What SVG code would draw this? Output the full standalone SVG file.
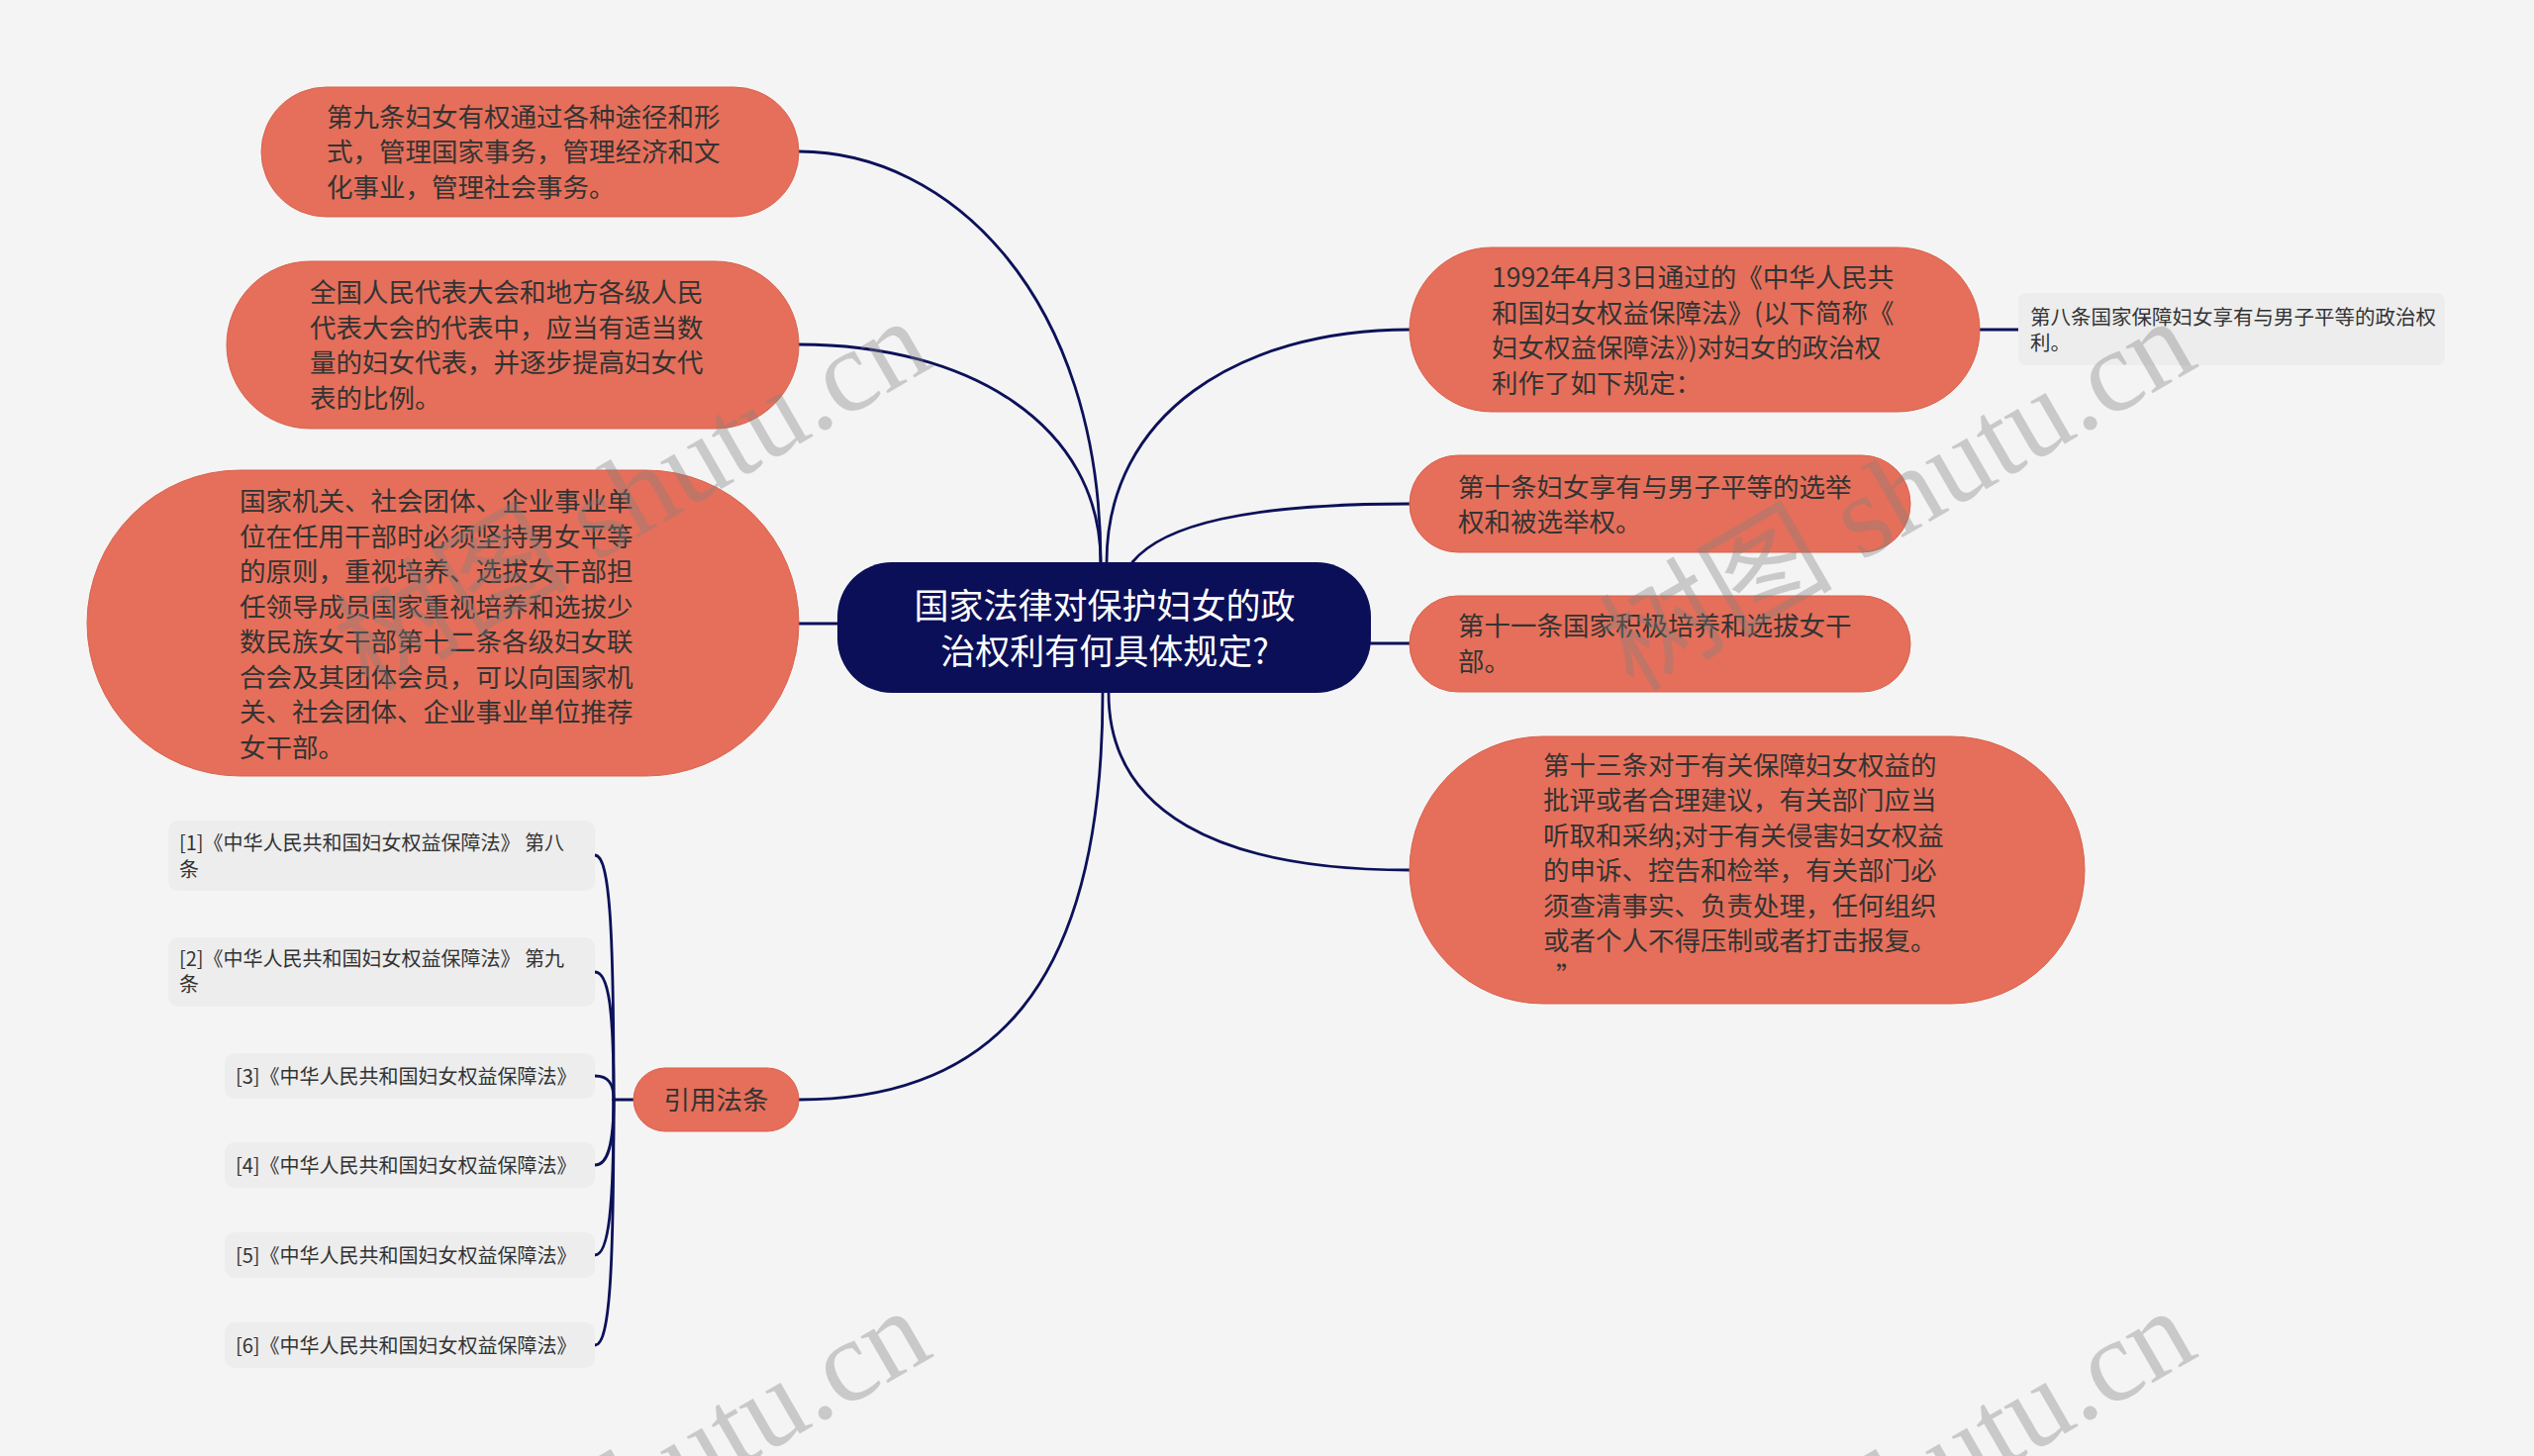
<svg xmlns="http://www.w3.org/2000/svg" width="2560" height="1471" viewBox="0 0 2560 1471">
<style>
.node{fill:#e56f5a;stroke:#d9624d;stroke-width:1}
.t{font-family:"Noto Sans CJK SC","Noto Sans",sans-serif;font-size:26.5px;fill:#333333}
.ct{font-family:"Noto Sans CJK SC","Noto Sans",sans-serif;font-size:35px;fill:#ffffff}
.leaf{fill:#ededed}
.lt{font-family:"Noto Sans CJK SC","Noto Sans",sans-serif;font-size:20px;fill:#333333}
.c{fill:none;stroke:#0c1159;stroke-width:2.8;stroke-linecap:round}
.wm{font-family:"Liberation Serif","Noto Sans CJK SC",serif;font-size:118px;fill:#808080;opacity:0.36}
</style>
<rect x="0" y="0" width="2560" height="1471" fill="#f4f4f4"/>
<g id="connectors">
<path class="c" d="M1112,568 C1112,300 960,153 807,153"/>
<path class="c" d="M1112,568 C1112,430 980,348 807,348"/>
<path class="c" d="M807,630 L846,630"/>
<path class="c" d="M1114,700 C1114,1000 1000,1111 807,1111"/>
<path class="c" d="M1118,568 C1118,420 1250,333 1424,333"/>
<path class="c" d="M1144,568 C1175,530 1260,509 1424,509"/>
<path class="c" d="M1385,650 L1424,650"/>
<path class="c" d="M1120,700 C1120,820 1230,879 1424,879"/>
<path class="c" d="M2000,333 L2039,333"/>
<path class="c" d="M640,1111 L620,1111"/>
<path class="c" d="M620,1111 C620,938 616,864 601,864"/>
<path class="c" d="M620,1111 C620,1020 615,982 601,982"/>
<path class="c" d="M620,1111 C620,1094 614,1087 601,1087"/>
<path class="c" d="M620,1111 C620,1157 614,1177 601,1177"/>
<path class="c" d="M620,1111 C620,1220 615,1268 601,1268"/>
<path class="c" d="M620,1111 C620,1285 616,1359 601,1359"/>
</g>
<g id="center">
<rect x="846" y="568" width="539" height="132" rx="55" fill="#0b0f58"/>
<text class="ct" text-anchor="middle"><tspan x="1116" y="625">国家法律对保护妇女的政</tspan><tspan x="1116" y="671">治权利有何具体规定?</tspan></text>
</g>
<g id="n9">
<rect class="node" x="264" y="88" width="543" height="131" rx="65.5"/>
<text class="t"><tspan x="330" y="127.5">第九条妇女有权通过各种途径和形</tspan><tspan x="330" y="163">式，管理国家事务，管理经济和文</tspan><tspan x="330" y="198.5">化事业，管理社会事务。</tspan></text>
</g>
<g id="nrep">
<rect class="node" x="229" y="264" width="578" height="169" rx="84.5"/>
<text class="t"><tspan x="313" y="305">全国人民代表大会和地方各级人民</tspan><tspan x="313" y="340.5">代表大会的代表中，应当有适当数</tspan><tspan x="313" y="376">量的妇女代表，并逐步提高妇女代</tspan><tspan x="313" y="411.5">表的比例。</tspan></text>
</g>
<g id="norg">
<rect class="node" x="88" y="475" width="719" height="309" rx="154.5"/>
<text class="t"><tspan x="242" y="516">国家机关、社会团体、企业事业单</tspan><tspan x="242" y="551.5">位在任用干部时必须坚持男女平等</tspan><tspan x="242" y="587">的原则，重视培养、选拔女干部担</tspan><tspan x="242" y="622.5">任领导成员国家重视培养和选拔少</tspan><tspan x="242" y="658">数民族女干部第十二条各级妇女联</tspan><tspan x="242" y="693.5">合会及其团体会员，可以向国家机</tspan><tspan x="242" y="729">关、社会团体、企业事业单位推荐</tspan><tspan x="242" y="764.5">女干部。</tspan></text>
</g>
<g id="n1992">
<rect class="node" x="1424" y="250" width="576" height="166" rx="83"/>
<text class="t"><tspan x="1507" y="290">1992年4月3日通过的《中华人民共</tspan><tspan x="1507" y="325.5">和国妇女权益保障法》(以下简称《</tspan><tspan x="1507" y="361">妇女权益保障法》)对妇女的政治权</tspan><tspan x="1507" y="396.5">利作了如下规定：</tspan></text>
</g>
<g id="n8">
<rect class="leaf" x="2039" y="296" width="431" height="73" rx="8"/>
<text class="lt" style="font-size:20.5px"><tspan x="2051" y="328">第八条国家保障妇女享有与男子平等的政治权</tspan><tspan x="2051" y="354">利。</tspan></text>
</g>
<g id="n10">
<rect class="node" x="1424" y="460" width="506" height="98" rx="49"/>
<text class="t"><tspan x="1473" y="501.5">第十条妇女享有与男子平等的选举</tspan><tspan x="1473" y="537">权和被选举权。</tspan></text>
</g>
<g id="n11">
<rect class="node" x="1424" y="602" width="506" height="97" rx="48.5"/>
<text class="t"><tspan x="1473" y="642">第十一条国家积极培养和选拔女干</tspan><tspan x="1473" y="678">部。</tspan></text>
</g>
<g id="n13">
<rect class="node" x="1424" y="744" width="682" height="270" rx="135"/>
<text class="t"><tspan x="1559" y="782.5">第十三条对于有关保障妇女权益的</tspan><tspan x="1559" y="818">批评或者合理建议，有关部门应当</tspan><tspan x="1559" y="853.5">听取和采纳;对于有关侵害妇女权益</tspan><tspan x="1559" y="889">的申诉、控告和检举，有关部门必</tspan><tspan x="1559" y="924.5">须查清事实、负责处理，任何组织</tspan><tspan x="1559" y="960">或者个人不得压制或者打击报复。</tspan><tspan x="1572" y="995.5">”</tspan></text>
</g>
<g id="nref">
<rect class="node" x="640" y="1079" width="167" height="64" rx="32"/>
<text class="t" text-anchor="middle" x="723.5" y="1121">引用法条</text>
</g>
<g id="r1">
<rect class="leaf" x="170" y="829" width="431" height="71" rx="10"/>
<text class="lt"><tspan x="181" y="858.5">[1]《中华人民共和国妇女权益保障法》 第八</tspan><tspan x="181" y="885.5">条</tspan></text>
</g>
<g id="r2">
<rect class="leaf" x="170" y="947" width="431" height="70" rx="10"/>
<text class="lt"><tspan x="181" y="976">[2]《中华人民共和国妇女权益保障法》 第九</tspan><tspan x="181" y="1002">条</tspan></text>
</g>
<g id="r3">
<rect class="leaf" x="227" y="1064" width="374" height="46" rx="10"/>
<text class="lt" x="238" y="1094.5">[3]《中华人民共和国妇女权益保障法》</text>
</g>
<g id="r4">
<rect class="leaf" x="227" y="1154" width="374" height="46" rx="10"/>
<text class="lt" x="238" y="1184.5">[4]《中华人民共和国妇女权益保障法》</text>
</g>
<g id="r5">
<rect class="leaf" x="227" y="1245" width="374" height="46" rx="10"/>
<text class="lt" x="238" y="1275.5">[5]《中华人民共和国妇女权益保障法》</text>
</g>
<g id="r6">
<rect class="leaf" x="227" y="1336" width="374" height="46" rx="10"/>
<text class="lt" x="238" y="1366.5">[6]《中华人民共和国妇女权益保障法》</text>
</g>
<g id="watermark">
<text class="wm" transform="translate(372,700) rotate(-30)">树图 shutu.cn</text>
<text class="wm" transform="translate(1650,700) rotate(-30)">树图 shutu.cn</text>
<text class="wm" transform="translate(372,1700) rotate(-30)">树图 shutu.cn</text>
<text class="wm" transform="translate(1650,1700) rotate(-30)">树图 shutu.cn</text>
</g>
</svg>
